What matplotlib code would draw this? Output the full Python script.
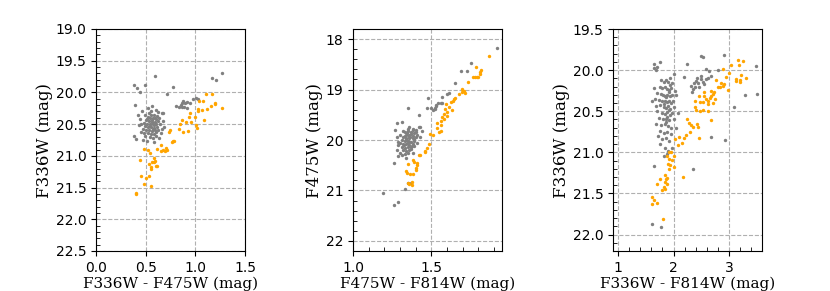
"""Three colour-magnitude diagrams: gray and orange star samples."""

import matplotlib
matplotlib.use("Agg")
import matplotlib.pyplot as plt
from matplotlib.ticker import MultipleLocator, FormatStrFormatter

# ---- panel 1: F336W vs F336W - F475W ----
p1_gray_x = [0.59, 0.38, 0.41, 0.44, 0.49, 0.78, 0.71, 0.39, 0.38, 0.40,
             0.88, 0.90, 0.86, 0.92, 0.84, 0.87, 0.89, 0.92, 0.95, 0.98,
             1.01, 1.03, 0.87, 0.81, 1.17, 1.21, 1.27, 0.67,
             0.52, 0.55, 0.58, 0.61, 0.54, 0.57, 0.60, 0.63, 0.50, 0.53,
             0.56, 0.59, 0.62, 0.48, 0.51, 0.54, 0.57, 0.60, 0.64, 0.49,
             0.52, 0.55, 0.58, 0.61, 0.47, 0.50, 0.53, 0.56, 0.59, 0.62,
             0.52, 0.55, 0.58, 0.54, 0.57, 0.49, 0.60,
             0.46, 0.52, 0.56, 0.60, 0.66, 0.67, 0.68, 0.44, 0.43, 0.45,
             0.47, 0.51, 0.58, 0.63, 0.65, 0.42, 0.49, 0.55, 0.62, 0.45,
             0.66, 0.53, 0.59, 0.57, 0.51, 0.60, 0.48, 0.56, 0.58, 0.54]
p1_gray_y = [19.74, 19.88, 19.93, 19.99, 19.89, 19.91, 20.02, 20.20, 20.69, 20.73,
             20.13, 20.16, 20.20, 20.15, 20.23, 20.23, 20.23, 20.25, 20.16, 20.10,
             20.08, 20.10, 20.17, 20.22, 19.77, 19.80, 19.69, 20.32,
             20.38, 20.36, 20.35, 20.37, 20.41, 20.40, 20.42, 20.40, 20.44, 20.45,
             20.44, 20.46, 20.45, 20.48, 20.50, 20.49, 20.50, 20.49, 20.50, 20.53,
             20.55, 20.54, 20.56, 20.54, 20.58, 20.60, 20.59, 20.61, 20.59, 20.60,
             20.64, 20.66, 20.65, 20.70, 20.72, 20.68, 20.69,
             20.30, 20.25, 20.22, 20.28, 20.33, 20.45, 20.55, 20.42, 20.52, 20.62,
             20.75, 20.77, 20.78, 20.72, 20.64, 20.35, 20.35, 20.30, 20.31, 20.50,
             20.58, 20.33, 20.40, 20.57, 20.42, 20.63, 20.64, 20.47, 20.52, 20.53]
p1_orange_x = [1.11, 1.17, 1.04, 1.08, 1.20, 1.20, 1.16, 1.12, 1.03, 1.07,
               1.03, 1.27, 0.95, 1.00, 0.94, 0.87, 0.91, 0.96, 1.09, 1.01,
               1.02, 0.85, 0.84, 0.93, 0.88, 0.74, 0.73, 0.78, 0.77, 0.79,
               0.65, 0.67, 0.69, 0.71, 0.70, 0.61, 0.65, 0.48, 0.52, 0.54,
               0.58, 0.56, 0.58, 0.59, 0.44, 0.53, 0.55, 0.55, 0.60, 0.61,
               0.45, 0.50, 0.53, 0.48, 0.55, 0.40, 0.40]
p1_orange_y = [20.02, 20.02, 20.14, 20.14, 20.16, 20.19, 20.21, 20.26, 20.26, 20.28,
               20.29, 20.25, 20.32, 20.38, 20.39, 20.44, 20.47, 20.46, 20.43, 20.52,
               20.56, 20.49, 20.58, 20.61, 20.63, 20.60, 20.62, 20.76, 20.78, 20.77,
               20.83, 20.90, 20.92, 20.90, 20.88, 20.89, 20.92, 20.89, 20.90, 20.96,
               21.03, 21.09, 21.09, 21.08, 21.07, 21.13, 21.18, 21.20, 21.16, 21.16,
               21.31, 21.35, 21.32, 21.44, 21.47, 21.58, 21.60]

# ---- panel 2: F475W vs F475W - F814W ----
p2_gray_x = [1.92, 1.75, 1.69, 1.73, 1.65, 1.60, 1.61, 1.57, 1.48, 1.50,
             1.47, 1.51, 1.52, 1.53, 1.54, 1.56, 1.57, 1.53, 1.52, 1.42,
             1.35, 1.28, 1.31, 1.27, 1.26, 1.19, 1.26, 1.29, 1.33, 1.35,
             1.37, 1.29,
             1.33, 1.35, 1.37, 1.39, 1.34, 1.36, 1.38, 1.32, 1.34, 1.36,
             1.38, 1.40, 1.31, 1.33, 1.35, 1.37, 1.39, 1.30, 1.32, 1.34,
             1.36, 1.38, 1.31, 1.33, 1.35, 1.37, 1.32, 1.34, 1.36, 1.33,
             1.35, 1.31,
             1.36, 1.38, 1.40, 1.42, 1.44, 1.41, 1.43, 1.30, 1.28, 1.29,
             1.28, 1.30, 1.37, 1.39, 1.41, 1.35, 1.32, 1.29, 1.40, 1.34,
             1.38, 1.43, 1.36, 1.34, 1.37, 1.35, 1.33, 1.39, 1.345, 1.365,
             1.355, 1.375, 1.325, 1.385]
p2_gray_y = [18.17, 18.48, 18.64, 18.64, 18.87, 19.09, 19.07, 19.15, 19.16, 19.36,
             19.37, 19.41, 19.36, 19.30, 19.26, 19.26, 19.26, 19.33, 19.39, 19.50,
             19.36, 19.67, 19.65, 19.80, 20.45, 21.05, 21.28, 21.22, 20.98, 20.86,
             20.86, 20.32,
             19.85, 19.83, 19.85, 19.87, 19.90, 19.90, 19.92, 19.95, 19.96, 19.97,
             19.96, 19.95, 20.00, 20.02, 20.01, 20.03, 20.01, 20.06, 20.08, 20.07,
             20.09, 20.07, 20.13, 20.15, 20.14, 20.13, 20.20, 20.22, 20.19, 20.28,
             20.26, 20.30,
             19.75, 19.78, 19.80, 19.75, 19.82, 19.90, 19.95, 19.90, 19.95, 20.10,
             20.20, 20.25, 20.18, 20.12, 20.05, 19.78, 19.82, 20.03, 19.85, 20.35,
             20.25, 19.75, 19.93, 19.98, 19.88, 20.05, 19.92, 19.99, 19.87, 19.94,
             20.04, 20.11, 20.10, 19.81]
p2_orange_x = [1.865, 1.783, 1.819, 1.812, 1.810, 1.764, 1.776, 1.789, 1.800, 1.732,
               1.698, 1.707, 1.692, 1.677, 1.713, 1.652, 1.635, 1.646, 1.627, 1.595,
               1.614, 1.586, 1.631, 1.601, 1.578, 1.570, 1.601, 1.582, 1.561, 1.534,
               1.561, 1.534, 1.559, 1.551, 1.494, 1.511, 1.487, 1.473, 1.462, 1.456,
               1.426, 1.418, 1.380, 1.390, 1.411, 1.409, 1.399, 1.403, 1.348, 1.335,
               1.346, 1.363, 1.382, 1.376, 1.350, 1.357, 1.374]
p2_orange_y = [18.33, 18.56, 18.61, 18.66, 18.69, 18.76, 18.76, 18.76, 18.76, 18.86,
               18.99, 19.02, 19.05, 19.08, 19.07, 19.17, 19.22, 19.18, 19.24, 19.28,
               19.34, 19.38, 19.40, 19.45, 19.48, 19.55, 19.53, 19.58, 19.62, 19.66,
               19.70, 19.76, 19.82, 19.84, 19.89, 19.91, 20.07, 20.15, 20.21, 20.24,
               20.29, 20.29, 20.39, 20.44, 20.45, 20.50, 20.55, 20.60, 20.47, 20.62,
               20.66, 20.68, 20.68, 20.83, 20.86, 20.88, 20.89]

# ---- panel 3: F336W vs F336W - F814W ----
p3_gray_x = [1.64, 1.76, 1.64, 1.68, 1.70, 2.24, 2.50, 2.53, 2.91, 2.79,
             2.64, 2.59, 2.18, 3.48, 3.28, 3.50, 3.09, 2.93, 2.67, 2.34,
             1.64, 1.62, 1.77,
             2.32, 2.36, 2.41, 2.44, 2.49, 2.52, 2.55, 2.35, 2.39, 2.46,
             2.58, 2.42, 2.49, 2.33, 2.61, 2.67,
             1.82, 1.86, 1.90, 1.94, 1.98, 1.75, 1.79, 1.84, 1.88, 1.92,
             1.96, 2.02, 1.70, 1.77, 1.81, 1.85, 1.89, 1.93, 1.97, 2.05,
             1.66, 1.73, 1.80, 1.84, 1.88, 1.91, 1.95, 1.99, 1.68, 1.76,
             1.82, 1.86, 1.90, 1.94, 2.01, 1.71, 1.79, 1.85, 1.89, 1.93,
             1.97, 1.74, 1.81, 1.87, 1.92, 2.00, 1.69, 1.77, 1.84, 1.90,
             1.96, 1.75, 1.82, 1.88, 1.95, 1.72, 1.80, 1.86, 1.92, 1.76,
             1.85, 1.90, 1.83, 1.88, 1.98, 2.05, 2.08, 1.62, 1.65, 1.94,
             2.00, 1.78, 1.87, 1.91, 1.83, 1.89, 1.86, 1.92]
p3_gray_y = [19.92, 19.90, 19.97, 20.00, 19.96, 19.92, 19.83, 19.84, 19.82, 20.00,
             20.01, 19.99, 20.08, 19.95, 20.30, 20.29, 20.45, 20.85, 20.81, 21.20,
             21.17, 21.87, 21.91,
             20.19, 20.16, 20.13, 20.16, 20.11, 20.14, 20.17, 20.23, 20.21, 20.21,
             20.11, 20.09, 20.07, 20.27, 20.09, 20.07,
             20.15, 20.12, 20.14, 20.18, 20.16, 20.20, 20.22, 20.21, 20.23, 20.24,
             20.22, 20.25, 20.28, 20.29, 20.30, 20.31, 20.30, 20.32, 20.30, 20.30,
             20.35, 20.36, 20.37, 20.38, 20.39, 20.37, 20.40, 20.38, 20.44, 20.43,
             20.45, 20.46, 20.44, 20.47, 20.45, 20.50, 20.52, 20.53, 20.51, 20.54,
             20.52, 20.58, 20.60, 20.59, 20.61, 20.60, 20.65, 20.67, 20.66, 20.68,
             20.70, 20.74, 20.76, 20.75, 20.78, 20.80, 20.84, 20.82, 20.86, 20.90,
             20.95, 20.98, 21.05, 21.02, 20.95, 20.70, 20.52, 20.38, 20.22, 20.10,
             20.05, 20.12, 20.33, 20.48, 20.41, 20.57, 20.63, 20.27]
p3_orange_x = [3.15, 3.24, 3.03, 3.18, 2.89, 3.00, 2.95, 3.22, 3.30, 3.19,
               3.12, 3.13, 3.20, 2.86, 2.91, 2.89, 2.80, 2.83, 2.98, 2.76,
               2.67, 2.70, 2.73, 2.68, 2.66, 2.58, 2.62, 2.70, 2.74, 2.61,
               2.54, 2.54, 2.45, 2.38, 2.47, 2.52, 2.39, 2.47, 2.53, 2.61,
               2.68, 2.41, 2.24, 2.28, 2.31, 2.34, 2.42, 2.43, 2.29, 2.23,
               2.18, 2.10, 2.15, 2.08, 2.02, 2.45, 1.91, 1.96, 1.88, 2.00,
               1.92, 1.98, 1.90, 1.93, 1.91, 2.01, 2.17, 1.84, 1.88, 1.86,
               1.85, 1.76, 1.70, 1.82, 1.85, 1.79, 1.88, 1.61, 1.64, 1.62,
               1.70, 1.81]
p3_orange_y = [19.88, 19.89, 19.94, 19.94, 19.99, 20.03, 20.08, 20.06, 20.09, 20.12,
               20.11, 20.13, 20.15, 20.16, 20.17, 20.19, 20.21, 20.20, 20.24, 20.12,
               20.25, 20.29, 20.27, 20.31, 20.34, 20.35, 20.37, 20.40, 20.35, 20.41,
               20.27, 20.32, 20.32, 20.38, 20.39, 20.39, 20.45, 20.50, 20.49, 20.50,
               20.61, 20.48, 20.60, 20.64, 20.67, 20.69, 20.65, 20.69, 20.75, 20.79,
               20.82, 20.81, 20.89, 20.91, 20.84, 20.82, 20.99, 21.00, 21.04, 21.04,
               21.08, 21.09, 21.14, 21.15, 21.20, 21.18, 21.30, 21.28, 21.31, 21.33,
               21.36, 21.32, 21.38, 21.42, 21.44, 21.46, 21.38, 21.54, 21.58, 21.63,
               21.62, 21.81]

panels = [
    dict(gx=p1_gray_x, gy=p1_gray_y, ox=p1_orange_x, oy=p1_orange_y,
         xlabel="F336W - F475W (mag)", ylabel="F336W (mag)",
         xlim=(0.0, 1.5), ylim=(22.5, 19.0), xmaj=0.5, xmin=None,
         ymaj=0.5, ymin=0.1, xfmt="%.1f", yfmt="%.1f", left=96),
    dict(gx=p2_gray_x, gy=p2_gray_y, ox=p2_orange_x, oy=p2_orange_y,
         xlabel="F475W - F814W (mag)", ylabel="F475W (mag)",
         xlim=(1.0, 1.95), ylim=(22.2, 17.8), xmaj=0.5, xmin=0.1,
         ymaj=1.0, ymin=0.2, xfmt="%.1f", yfmt="%d", left=353),
    dict(gx=p3_gray_x, gy=p3_gray_y, ox=p3_orange_x, oy=p3_orange_y,
         xlabel="F336W - F814W (mag)", ylabel="F336W (mag)",
         xlim=(0.91, 3.59), ylim=(22.2, 19.5), xmaj=1.0, xmin=0.2,
         ymaj=0.5, ymin=0.1, xfmt="%d", yfmt="%.1f", left=613),
]

W, H = 830, 291
fig = plt.figure(figsize=(W / 100, H / 100), dpi=100)

for p in panels:
    ax = fig.add_axes([p["left"] / W, 1 - 251 / H, 149 / W, 222 / H])
    ax.scatter(p["gx"], p["gy"], s=6, color="gray", linewidths=0, zorder=3)
    ax.scatter(p["ox"], p["oy"], s=6, color="orange", linewidths=0, zorder=3)
    ax.set_xlim(*p["xlim"])
    ax.set_ylim(*p["ylim"])
    ax.xaxis.set_major_locator(MultipleLocator(p["xmaj"]))
    ax.yaxis.set_major_locator(MultipleLocator(p["ymaj"]))
    if p["xmin"]:
        ax.xaxis.set_minor_locator(MultipleLocator(p["xmin"]))
    ax.yaxis.set_minor_locator(MultipleLocator(p["ymin"]))
    ax.xaxis.set_major_formatter(FormatStrFormatter(p["xfmt"]))
    ax.yaxis.set_major_formatter(FormatStrFormatter(p["yfmt"]))
    ax.tick_params(which="major", direction="out", labelsize=10)
    ax.tick_params(which="minor", direction="in", length=3)
    ax.grid(True, which="major", linestyle="--", color="#b0b0b0", linewidth=0.8)
    ax.set_axisbelow(True)
    ax.set_xlabel(p["xlabel"], family="DejaVu Serif", fontsize=11, labelpad=1)
    ax.set_ylabel(p["ylabel"], family="DejaVu Serif", fontsize=12, labelpad=2)

fig.savefig("out.png", dpi=100)
